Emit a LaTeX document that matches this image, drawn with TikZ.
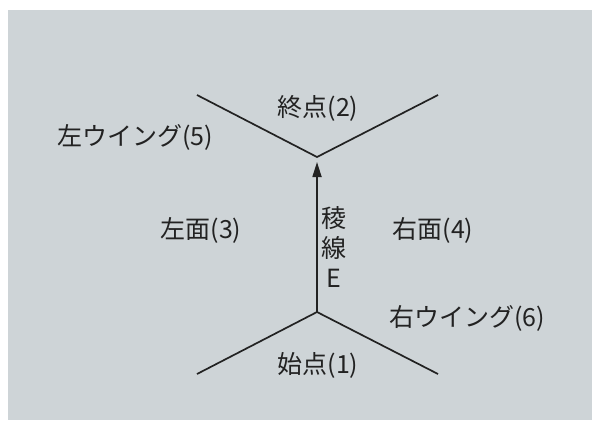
\documentclass[tikz,border=0pt]{standalone}
\usepackage{fontspec}
\setmainfont{Noto Sans CJK JP}
\usetikzlibrary{arrows.meta,positioning}

\definecolor{panel}{HTML}{CED4D7}
\definecolor{ink}{HTML}{222222}

\tikzset{
  lbl/.style={inner sep=0pt,font=\fontsize{25}{28}\selectfont,text=ink},
  edgeline/.style={draw=ink,line width=1.7pt},
}

\begin{document}
\begin{tikzpicture}[x=1pt,y=-1pt,>={Triangle[length=15pt,width=9pt]},shorten >=5pt]

                \useasboundingbox (0,0) rectangle (601,429);
                \fill[panel] (8,10) rectangle (592,420);

                \coordinate (top) at (317,157);
                \coordinate (tl) at (197,95);
                \coordinate (tr) at (438,95);
                \coordinate (bot) at (317,312);
                \coordinate (bl) at (197,374);
                \coordinate (br) at (438,374);

                \draw[edgeline,shorten >=0pt] (tl) -- (top) -- (tr);
                \draw[edgeline,shorten >=0pt] (bl) -- (bot) -- (br);
                \draw[edgeline,->] (bot) -- (top);

                \node[lbl] (end) at (318,108) {終点(2)};
                \node[lbl] (start) at (318,365) {始点(1)};
                \node[lbl] (lface) at (201,230) {左面(3)};
                \node[lbl] (rface) at (433,230) {右面(4)};
                \node[lbl] (lwing) at (135,137) {左ウイング(5)};
                \node[lbl] (rwing) at (467,318) {右ウイング(6)};

                \node[lbl] (ry) at (334,218) {稜};
                \node[lbl] (sen) at (334,248) {線};
                \node[lbl] (e) at (334,278) {E};

            \end{tikzpicture}
\end{document}
